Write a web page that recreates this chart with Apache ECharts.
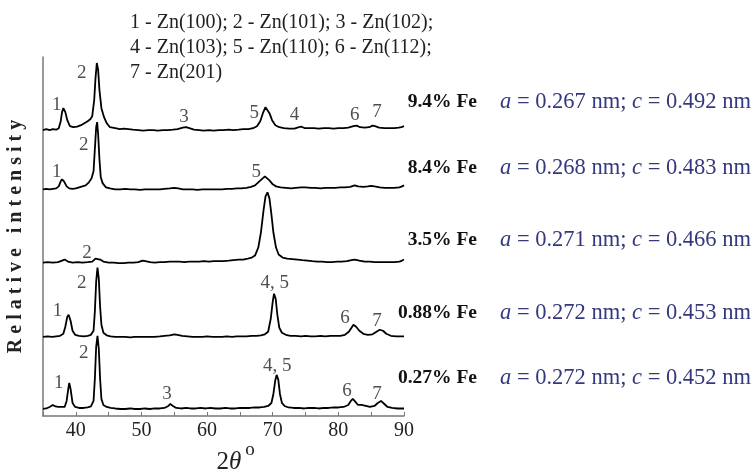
<!DOCTYPE html>
<html>
<head>
<meta charset="utf-8">
<script src="https://cdn.jsdelivr.net/npm/echarts@6/dist/echarts.min.js"></script>
<style>
  html, body { margin: 0; padding: 0; background: #fff; }
  #chart { width: 755px; height: 471px; }
</style>
</head>
<body>
<div id="chart"></div>
<script>
// samples, top to bottom
const samples = ["9.4% Fe", "8.4% Fe", "3.5% Fe", "0.88% Fe", "0.27% Fe"];
const latticeA = ["0.267", "0.268", "0.271", "0.272", "0.272"];
const latticeC = ["0.492", "0.483", "0.466", "0.453", "0.452"];
// vertical stacking offset of each pattern (relative intensity units)
const baselines = [285, 226, 153, 79, 7];

const legendLines = [
  "1 - Zn(100); 2 - Zn(101); 3 - Zn(102);",
  "4 - Zn(103); 5 - Zn(110); 6 - Zn(112);",
  "7 - Zn(201)"
];
const xTicks = [40, 50, 60, 70, 80, 90];

// [2theta, intensity above own baseline]
const curve94 = [[35,0],[35.5,1],[36,0],[36.5,1],[37,0.5],[37.4,2],[37.7,9],[37.9,18],[38.1,22],[38.4,18],[38.7,10],[39.1,4],[39.6,3],[40.2,3.5],[40.8,5],[41.3,7],[41.8,9],[42.2,11],[42.5,14],[42.8,30],[43.0,52],[43.2,67],[43.4,60],[43.6,40],[43.9,22],[44.3,13],[44.7,7],[45.2,3],[46,2],[46.7,1],[47.3,1.5],[47.6,3],[48,1],[48.7,0.5],[49.5,0],[50.3,-0.5],[51,0],[51.8,0],[52.5,-0.5],[53.3,0],[54,0],[54.8,0.5],[55.5,1],[56.3,2.5],[56.8,3],[57.3,2],[58,0.5],[58.8,0],[59.5,-0.5],[60.3,0],[61,-0.5],[61.8,0],[62.5,0],[63.3,0.5],[64,0],[64.8,0.5],[65.5,1],[66.3,1],[67,2],[67.6,4],[68.1,9],[68.5,17],[68.9,23],[69.2,22],[69.5,17],[69.9,10],[70.4,5],[71,3],[71.7,2],[72.5,1.5],[73.3,1.5],[74,3],[74.4,3.5],[74.9,2],[75.5,2],[76.3,2],[77,1.5],[77.8,2],[78.5,2],[79.3,1.5],[80,2],[80.8,2],[81.5,2.5],[82.3,4],[82.8,4.5],[83.3,3],[84,2.5],[84.7,3],[85.2,4.5],[85.6,4],[86.2,2.5],[87,2],[87.7,2],[88.5,2],[89.2,2.5],[89.6,3],[90,4]];
const curve84 = [[35,0],[35.5,0.5],[36,0],[36.5,0.5],[37,1],[37.4,3],[37.7,8],[37.9,10],[38.2,8],[38.6,3],[39,1],[39.5,0.5],[40,1],[40.5,2],[41,3],[41.5,4],[42,7],[42.4,11],[42.7,18],[42.9,40],[43.1,62],[43.25,67],[43.4,55],[43.6,30],[43.8,12],[44.1,6],[44.6,2],[45.2,1],[46,0],[46.8,0],[47.5,0.5],[48.3,0],[49,0],[49.8,-0.5],[50.5,0],[51.3,0],[52,0],[52.8,0],[53.5,0.5],[54.3,1],[55,1.5],[55.6,1],[56.3,0],[57,0],[57.8,0],[58.5,-0.5],[59.3,0],[60,0],[60.8,0],[61.5,0],[62.3,0],[63,0.5],[63.8,0.5],[64.5,1],[65.2,1],[66,1.5],[66.7,2.5],[67.3,4],[67.8,7],[68.3,10],[68.8,13],[69.1,12],[69.5,9],[70,5],[70.5,3],[71.2,2],[72,1.5],[72.8,1],[73.5,1.5],[74.3,2],[75,2],[75.8,1.5],[76.5,1.5],[77.3,1],[78,1.5],[78.8,1.5],[79.5,1.5],[80.3,2],[81,2],[81.8,2.5],[82.5,4],[83,3],[83.8,2.5],[84.5,3],[85,3.5],[85.5,3],[86.3,2],[87,1.5],[87.8,1.5],[88.5,1.5],[89.3,2],[89.7,3],[90,4]];
const curve35 = [[35,0],[35.7,0.5],[36.5,0],[37.3,0.5],[37.9,2],[38.3,3],[38.8,1],[39.5,0],[40.3,0.5],[41,0],[41.8,0.5],[42.5,1],[43,4],[43.3,5],[43.7,3],[44.2,1],[45,0],[45.8,0],[46.5,-0.5],[47.3,-0.5],[48,0],[48.8,0],[49.5,0.5],[50.2,2],[50.6,1.5],[51.3,0.5],[52,0],[52.8,0.5],[53.5,0.5],[54.3,1],[55,1],[55.8,1],[56.5,0.5],[57.3,1],[58,1],[58.8,1],[59.5,1.5],[60.3,1],[61,1.5],[61.8,1.5],[62.5,1.5],[63.3,2],[64,2.5],[64.8,3],[65.5,3],[66.2,4],[66.8,5],[67.3,7],[67.8,15],[68.2,30],[68.6,52],[68.9,66],[69.2,70],[69.5,64],[69.8,48],[70.1,30],[70.5,15],[70.9,8],[71.5,5],[72.2,4],[73,3.5],[73.8,3],[74.5,2.5],[75.3,2],[76,1.5],[76.8,1],[77.5,1],[78.3,0.5],[79,0.5],[79.8,1],[80.5,1],[81.3,1.5],[82,2.5],[82.5,3],[83.2,2],[84,1],[84.8,1],[85.5,0.5],[86.3,0.5],[87,0.5],[87.8,0.5],[88.5,0.5],[89.3,1],[89.7,2],[90,3]];
const curve088 = [[35,0],[35.7,0.5],[36.4,0],[37,0.5],[37.6,1],[38.1,3],[38.4,10],[38.7,20],[38.9,22],[39.2,16],[39.5,6],[39.9,2],[40.5,1],[41.2,0.5],[41.8,1],[42.3,2],[42.7,6],[42.9,25],[43.1,55],[43.3,69],[43.5,58],[43.7,30],[43.9,12],[44.2,4],[44.7,1.5],[45.3,0.5],[46,0],[46.8,0],[47.5,0],[48.3,-0.5],[49,0],[49.8,0],[50.5,0],[51.3,0],[52,0],[52.8,0.5],[53.5,1],[54.3,1.5],[55,2.5],[55.5,2],[56.2,1],[57,0.5],[57.8,0],[58.5,0],[59.3,0],[60,0.5],[60.8,0],[61.5,0],[62.3,0],[63,0.5],[63.8,0],[64.5,0.5],[65.3,0.5],[66,0.5],[66.8,1],[67.5,1],[68.2,1.5],[68.8,2.5],[69.3,5],[69.7,18],[70,35],[70.2,43],[70.45,38],[70.7,22],[71,9],[71.4,4],[72,2],[72.7,1],[73.5,1],[74.3,0.5],[75,1],[75.8,0.5],[76.5,0.5],[77.3,1],[78,0.5],[78.8,1],[79.5,1],[80.3,1],[81,2],[81.6,5],[82,9],[82.3,12],[82.7,10],[83.2,6],[83.8,3],[84.5,2],[85.2,2.5],[85.8,5],[86.3,7],[86.8,6],[87.3,3],[88,1],[88.8,0.5],[89.5,0.5],[90,0.5]];
const curve027 = [[35,0],[35.5,0.5],[36,2],[36.5,4],[36.9,2.5],[37.3,2],[37.6,3.5],[37.9,2],[38.3,2],[38.6,8],[38.85,20],[39.0,26],[39.2,20],[39.5,6],[39.9,2],[40.5,1],[41.2,1],[41.8,1.5],[42.3,2.5],[42.7,8],[42.9,30],[43.1,62],[43.3,73],[43.5,60],[43.7,30],[43.9,10],[44.2,4],[44.7,2],[45.3,1],[46,0.5],[46.8,0],[47.5,0],[48.3,0.5],[49,0],[49.8,0],[50.5,0.5],[51.3,0],[52,0.5],[52.8,0.5],[53.5,1],[54.1,3],[54.4,5],[54.8,3],[55.3,1],[56,0.5],[56.8,1],[57.5,0.5],[58.3,0.5],[59,1],[59.8,0.5],[60.5,1],[61.3,0.5],[62,0.5],[62.8,1],[63.5,0.5],[64.3,0.5],[65,1],[65.8,1],[66.5,1],[67.3,1.5],[68,1.5],[68.7,2],[69.3,3],[69.8,6],[70.1,15],[70.4,29],[70.6,34],[70.85,29],[71.1,15],[71.4,6],[71.8,3],[72.4,1.5],[73.2,1],[74,1],[74.8,0.5],[75.5,1],[76.3,1],[77,0.5],[77.8,1],[78.5,1],[79.3,1.5],[80,1.5],[80.8,2],[81.5,4],[81.9,8],[82.2,10],[82.6,7],[83,4],[83.5,4],[84.2,3],[84.8,2],[85.5,3],[86,6],[86.5,8],[87,5],[87.5,2],[88.2,1],[89,0.5],[89.6,0.5],[90,0.5]];
const curves = [curve94, curve84, curve35, curve088, curve027];

// peak index labels: [2theta, height above baseline, text]
const peaks94 = [[37.1,25,"1"],[40.9,57,"2"],[56.5,13,"3"],[67.2,17,"5"],[73.3,15,"4"],[82.5,15,"6"],[85.9,18,"7"]];
const peaks84 = [[37.1,17,"1"],[41.2,44,"2"],[67.5,17,"5"]];
const peaks35 = [[41.7,10,"2"]];
const peaks088 = [[37.2,26,"1"],[40.9,54,"2"],[70.3,54,"4, 5"],[81,19,"6"],[85.9,16,"7"]];
const peaks027 = [[37.4,26,"1"],[41.2,56,"2"],[53.9,15,"3"],[70.7,43,"4, 5"],[81.3,18,"6"],[85.9,15,"7"]];
const peakSets = [peaks94, peaks84, peaks35, peaks088, peaks027];

const serif = "'Liberation Serif', 'Times New Roman', serif";
const labelRowY = [102, 168, 240, 313, 378];

const chart = echarts.init(document.getElementById("chart"));

const lineSeries = curves.map((curve, i) => ({
  type: "line",
  name: samples[i],
  showSymbol: false,
  silent: true,
  lineStyle: { color: "#000", width: 1.8 },
  data: curve.map(p => [p[0], p[1] + baselines[i]])
}));

const peakData = [];
peakSets.forEach((set, i) => {
  set.forEach(p => peakData.push({ value: [p[0], p[1] + baselines[i]], name: p[2] }));
});

const graphics = [];
legendLines.forEach((t, i) => {
  graphics.push({
    type: "text", x: 130, y: 23 + i * 25,
    style: { text: t, fontFamily: serif, fontSize: 20, fill: "#222", textVerticalAlign: "middle" }
  });
});
samples.forEach((s, i) => {
  graphics.push({
    type: "text", x: 477, y: labelRowY[i],
    style: { text: s, fontFamily: serif, fontSize: 19.5, fontWeight: "bold", fill: "#111", textAlign: "right", textVerticalAlign: "middle" }
  });
  graphics.push({
    type: "text", x: 500, y: labelRowY[i],
    style: {
      text: "{i|a} = " + latticeA[i] + " nm; {i|c} = " + latticeC[i] + " nm",
      fontFamily: serif, fontSize: 22.5, fill: "#34397d", textVerticalAlign: "middle",
      rich: { i: { fontFamily: serif, fontSize: 22.5, fontStyle: "italic", fill: "#34397d" } }
    }
  });
});
graphics.push({
  type: "text", x: 229, y: 462,
  style: {
    text: "2{t|θ}", fontFamily: serif, fontSize: 25, fill: "#222", textAlign: "center", textVerticalAlign: "middle",
    rich: { t: { fontFamily: serif, fontSize: 25, fontStyle: "italic", fill: "#222" } }
  }
});
graphics.push({
  type: "text", x: 250, y: 450,
  style: { text: "o", fontFamily: serif, fontSize: 19, fill: "#222", textAlign: "center", textVerticalAlign: "middle" }
});

chart.setOption({
  animation: false,
  backgroundColor: "#fff",
  grid: { left: 43, right: 351, top: 57, bottom: 55 },
  xAxis: {
    type: "value",
    min: 35,
    max: 90,
    interval: 5,
    axisLine: { lineStyle: { color: "#777", width: 1.5 } },
    axisTick: { inside: true, length: 4, lineStyle: { color: "#777" } },
    splitLine: { show: false },
    axisLabel: {
      margin: 5,
      fontFamily: serif,
      fontSize: 20,
      color: "#222",
      formatter: v => (xTicks.indexOf(v) >= 0 ? String(v) : "")
    }
  },
  yAxis: {
    type: "value",
    min: 0,
    max: 358,
    axisLine: { show: true, lineStyle: { color: "#777", width: 1.5 } },
    axisTick: { show: false },
    axisLabel: { show: false },
    splitLine: { show: false },
    name: "R e l a t i v e   i n t e n s i t y",
    nameLocation: "middle",
    nameGap: 17,
    nameTextStyle: { fontFamily: serif, fontSize: 20, fontWeight: "bold", color: "#222" }
  },
  graphic: graphics,
  series: lineSeries.concat([{
    type: "scatter",
    symbolSize: 0,
    silent: true,
    data: peakData,
    label: {
      show: true,
      position: "inside",
      formatter: "{b}",
      fontFamily: serif,
      fontSize: 19,
      color: "#222"
    }
  }])
});
</script>
</body>
</html>
